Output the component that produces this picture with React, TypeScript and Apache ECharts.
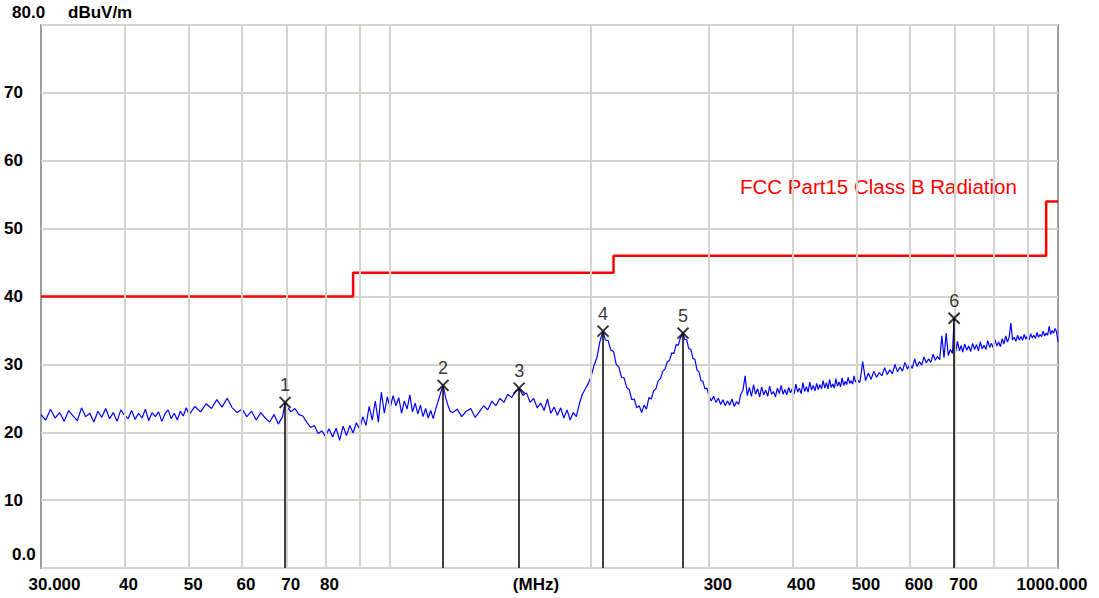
import React, { useEffect, useRef } from "react";
import * as echarts from "echarts";

// Measured trace: [frequency MHz, level dBuV/m]
const traceData: [number, number][] = [
  [30,22.6],[30.5,21.8],[31,23.4],[31.5,22.1],[32,22.9],[32.5,21.6],[33,23.2],[33.5,22.4],[34,21.7],[34.5,23.6],
  [35,22.3],[35.5,22.8],[36,21.5],[36.5,23.1],[37,22.2],[37.5,23.5],[38,22.0],[38.5,22.9],[39,21.6],[39.5,23.3],
  [40,22.5],[40.5,22.0],[41,23.2],[41.5,21.9],[42,22.8],[42.5,22.1],[43,23.4],[43.5,21.7],[44,22.9],[44.5,22.3],
  [45,23.0],[45.5,21.6],[46,22.7],[46.5,23.3],[47,22.0],[47.5,22.8],[48,21.8],[48.5,23.1],[49,22.4],[49.5,23.6],
  [50,22.6],[51,23.8],[52,23.0],[53,24.2],[54,23.5],[55,24.8],[56,23.7],[57,25.0],[58,23.6],[59,22.9],
  [60,23.4],[61,22.3],[62,23.1],[63,21.8],[64,22.9],[65,22.1],[66,21.5],[67,22.6],[68,21.2],[69,22.3],
  [69.6,24.4],[70,23.8],[71,23.0],[72,23.5],[73,22.6],[74,22.4],[75,21.5],[76,20.7],[77,21.0],[78,19.8],
  [79,20.2],[80,19.4],[81,20.5],[82,19.3],[83,20.6],[84,18.8],[85,20.9],[86,19.5],[87,21.0],[88,19.9],
  [89,21.4],[90,20.5],[91,22.3],[92,21.0],[93,23.8],[94,21.8],[95,24.6],[96,21.5],[97,25.9],[98,22.8],
  [99,25.2],[100,23.6],[101,25.4],[102,23.9],[103,25.1],[104,22.8],[105,24.6],[106,23.4],[107,25.5],[108,23.0],
  [109,24.3],[110,22.7],[111,24.0],[112,22.3],[113,23.5],[114,22.1],[115,23.2],[116,22.0],[117,23.4],[118,24.6],
  [119,25.8],[120,26.9],[121,25.2],[122,24.0],[123,23.1],[124,22.9],[126,23.4],[128,22.3],[130,23.1],[132,23.5],
  [134,22.2],[136,23.0],[138,23.9],[140,23.3],[142,24.6],[144,23.9],[146,25.0],[148,24.4],[150,25.6],[152,25.1],
  [154,26.0],[156,26.5],[158,25.4],[160,25.8],[162,24.4],[164,25.0],[166,23.6],[168,24.3],[170,23.2],[172,24.9],
  [174,22.8],[176,23.7],[178,22.5],[180,23.6],[182,22.1],[184,23.3],[186,21.8],[188,22.9],[190,22.3],[192,24.2],
  [194,25.6],[196,26.4],[198,27.2],[200,28.3],[202,29.9],[204,31.0],[206,33.3],[208.3,34.9],[210,33.6],[212,33.5],
  [214,32.1],[216,31.9],[218,30.0],[220,29.6],[222,28.1],[224,28.0],[226,26.6],[228,26.3],[230,24.8],[232,24.9],
  [234,23.6],[236,23.9],[238,22.9],[240,24.0],[242,23.4],[244,25.1],[246,24.9],[248,26.1],[250,26.4],[252,27.6],
  [254,27.9],[256,29.0],[258,29.3],[260,30.4],[262,30.6],[264,31.7],[266,31.6],[268,32.9],[270,32.8],[272,33.9],
  [274.5,34.6],[276,33.7],[278,33.6],[280,32.3],[282,32.2],[284,30.9],[286,30.7],[288,29.2],[290,28.9],[292,27.6],
  [294,27.5],[296,26.4],[298,26.5],[300,25.4],[302.5,24.6],[305,25.3],[307.5,24.4],[310,25.0],[312.5,24.1],[315,24.8],
  [317.5,23.9],[320,24.6],[322.5,24.0],[325,24.9],[327.5,23.8],[330,24.5],[332.5,24.1],[335,25.6],[337.5,26.2],[340,28.3],
  [342.5,25.4],[345,26.6],[347.5,25.3],[350,27.0],[352.5,25.6],[355,26.4],[357.5,25.2],[360,26.7],[362.5,25.5],[365,26.2],
  [367.5,25.3],[370,26.8],[372.5,25.6],[375,26.0],[377.5,25.2],[380,26.5],[382.5,25.7],[385,26.9],[387.5,25.6],[390,26.3],
  [392.5,25.5],[395,26.6],[397.5,25.8],[400,26.4],[402.5,25.6],[405,27.1],[407.5,25.9],[410,26.5],[412.5,25.7],[415,27.3],
  [417.5,26.0],[420,26.7],[422.5,25.9],[425,27.4],[427.5,26.2],[430,26.9],[432.5,26.1],[435,27.2],[437.5,26.3],[440,27.0],
  [442.5,26.4],[445,27.6],[447.5,26.5],[450,27.3],[452.5,26.4],[455,27.8],[457.5,26.6],[460,27.1],[462.5,26.5],[465,27.9],
  [467.5,26.8],[470,27.4],[472.5,26.7],[475,28.0],[477.5,26.9],[480,27.5],[482.5,27.0],[485,28.1],[487.5,27.2],[490,27.6],
  [492.5,27.1],[495,28.3],[497.5,27.4],[500,27.8],[505,27.3],[510,30.4],[515,27.6],[520,28.7],[525,27.8],[530,29.0],
  [535,28.1],[540,28.8],[545,28.3],[550,29.5],[555,28.5],[560,29.2],[565,28.6],[570,30.0],[575,28.9],[580,29.6],
  [585,29.0],[590,30.3],[595,29.3],[600,30.0],[605,29.4],[610,30.8],[615,29.7],[620,30.4],[625,29.9],[630,31.1],
  [635,30.2],[640,30.8],[645,30.3],[650,31.5],[655,30.6],[660,31.2],[665,30.7],[670,34.2],[675,31.0],[680,34.6],
  [685,31.3],[690,32.2],[695,31.6],[699,36.8],[703,31.9],[707,33.4],[712,32.0],[716,32.8],[720,31.8],[725,33.0],
  [730,32.1],[735,32.7],[740,31.9],[745,33.1],[750,32.2],[755,32.9],[760,32.0],[765,33.3],[770,32.3],[775,32.8],
  [780,32.2],[785,33.5],[790,32.5],[795,33.1],[800,32.4],[805,33.6],[810,32.7],[815,33.3],[820,32.6],[825,33.8],
  [830,33.0],[835,34.2],[840,33.3],[845,34.0],[850,36.1],[855,33.6],[860,34.0],[865,33.4],[870,34.3],[875,33.6],
  [880,34.1],[885,33.5],[890,34.4],[895,33.7],[900,34.2],[905,33.6],[910,34.5],[915,33.9],[920,34.3],[925,33.8],
  [930,34.7],[935,34.0],[940,34.4],[945,34.1],[950,34.9],[955,34.2],[960,34.6],[965,34.3],[970,35.6],[975,34.4],
  [980,35.0],[985,34.6],[990,35.3],[995,34.8],[1000,33.3]
];

// FCC Part15 Class B limit (step line)
const limitData: [number, number][] = [
  [30, 40.0], [88, 40.0], [88, 43.5], [216, 43.5], [216, 46.0], [960, 46.0], [960, 54.0], [1000, 54.0]
];

// Peak markers [frequency MHz, level]
const markerData: [number, number][] = [
  [69.6, 24.4], [120, 26.9], [156, 26.5], [208.3, 34.9], [274.5, 34.6], [699, 36.8]
];

const xGridValues = [40, 50, 60, 70, 80, 90, 100, 200, 300, 400, 500, 600, 700, 800, 900];
const xTickValues = [30, 40, 50, 60, 70, 80, 165.3, 300, 400, 500, 600, 700, 1000];
const xTickTexts = ["30.000", "40", "50", "60", "70", "80", "(MHz)", "300", "400", "500", "600", "700", "1000.000"];

const limitName = "FCC Part15 Class B Radiation";
const yUnit = "dBuV/m";
const yTopText = "80.0";

const FONT = "'Liberation Sans', Arial, sans-serif";

export default function App() {
  const ref = useRef<HTMLDivElement>(null);

  useEffect(() => {
    document.body.style.margin = "0";
    if (!ref.current) return;
    const chart = echarts.init(ref.current, undefined, { renderer: "svg" });

    const labelStyle = { fontFamily: FONT, fontSize: 17, fontWeight: "bold" as const, color: "#000" };

    const richKey = (t: string) => {
      if (t === "30.000") return "s";
      if (t === "1000.000") return "e";
      if (t === "(MHz)") return "c";
      return t.length === 2 ? "p2" : "p3";
    };

    const gridItems: any[] = xGridValues.map((v) => ({
      xAxis: v,
      lineStyle: { color: "#d6d2ce", width: 2, type: "solid" },
      label: { show: false },
    }));
    const tickItems: any[] = xTickValues.map((v, i) => ({
      xAxis: v,
      lineStyle: { color: "rgba(255,255,255,0)", width: 0, type: "solid" },
      label: {
        show: true,
        position: "start",
        distance: 8,
        formatter: `{${richKey(xTickTexts[i])}|${xTickTexts[i]}}`,
      },
    }));

    const option: any = {
      animation: false,
      backgroundColor: "#ffffff",
      title: [
        { text: yTopText, left: 12, top: 4, padding: 0, textStyle: labelStyle },
        { text: yUnit, left: 68, top: 4, padding: 0, textStyle: labelStyle },
      ],
      grid: {
        left: 41, right: 41, top: 25, bottom: 30,
        show: true, borderColor: "#9c9c9c", borderWidth: 2, backgroundColor: "transparent",
      },
      xAxis: {
        type: "log", logBase: 10, min: 30, max: 1000,
        axisLine: { show: false }, axisTick: { show: false },
        axisLabel: { show: false }, splitLine: { show: false },
      },
      yAxis: {
        type: "value", min: 0, max: 80, interval: 10,
        axisLine: { show: false }, axisTick: { show: false },
        splitLine: { show: true, lineStyle: { color: "#d6d2ce", width: 2 } },
        axisLabel: {
          ...labelStyle,
          align: "left",
          margin: 37,
          formatter: (v: number) => (v === 0 ? "{z|0.0}" : v === 80 ? "" : String(v)),
          rich: { z: { ...labelStyle, padding: [0, 0, 28, 8] } },
        },
      },
      graphic: [
        {
          type: "text", left: 740, top: 176, silent: true,
          style: { text: limitName, fill: "#ff0000", fontSize: 20.5, fontFamily: FONT },
        },
      ],
      series: [
        {
          type: "line", name: "grid", data: [[30, 0]], symbol: "none", silent: true, z: 1,
          clip: false,
          lineStyle: { color: "rgba(255,255,255,0)", width: 0 },
          markLine: {
            silent: true, symbol: ["none", "none"], animation: false,
            label: {
              show: true,
              ...labelStyle,
              rich: {
                s: { ...labelStyle, padding: [0, 0, 0, 27] },
                e: { ...labelStyle, padding: [0, 12, 0, 0] },
                c: { ...labelStyle },
                p2: { ...labelStyle, padding: [0, 0, 0, 8] },
                p3: { ...labelStyle, padding: [0, 0, 0, 18] },
              },
            },
            data: [...gridItems, ...tickItems],
          },
        },
        {
          type: "line", name: "trace", data: traceData, symbol: "none", z: 3,
          lineStyle: { color: "#0000ff", width: 1.2 },
        },
        {
          type: "line", name: limitName, data: limitData, symbol: "none", z: 4,
          lineStyle: { color: "#ff0000", width: 2.5 },
        },
        {
          type: "scatter", name: "markers", data: markerData, z: 5,
          symbol: "path://M0,0L10,10M10,0L0,10", symbolSize: 11,
          itemStyle: { color: "none", borderColor: "#000", borderWidth: 2 },
          label: {
            show: true, position: "top", distance: 0, color: "#000",
            fontSize: 18, fontFamily: FONT,
            formatter: (p: any) => String(p.dataIndex + 1),
          },
          markLine: {
            silent: true, symbol: ["none", "none"], animation: false,
            label: { show: false },
            lineStyle: { color: "#000", width: 1.5, type: "solid" },
            data: markerData.map(([f, v]) => [{ coord: [f, 0] }, { coord: [f, v] }]),
          },
        },
      ],
    };

    chart.setOption(option);
    return () => chart.dispose();
  }, []);

  return <div ref={ref} style={{ width: 1099, height: 598 }} />;
}
